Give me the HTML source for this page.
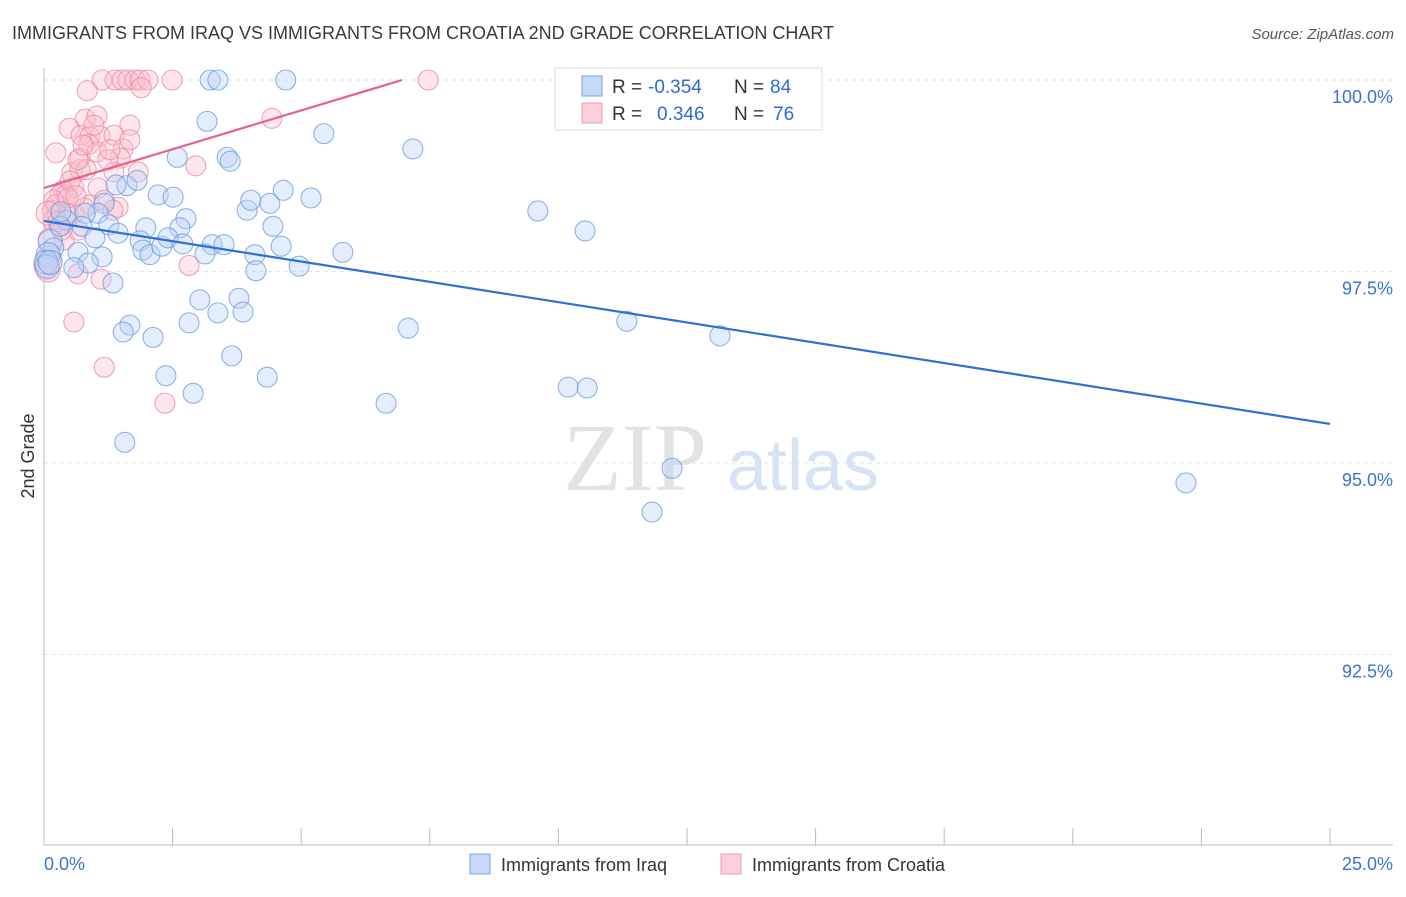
<!DOCTYPE html>
<html><head><meta charset="utf-8"><style>
body{margin:0;background:#fff;font-family:"Liberation Sans",sans-serif}
svg text{font-family:"Liberation Sans",sans-serif}
</style></head><body>
<svg id="chart" width="1406" height="892">
<text x="12" y="39" font-size="18" fill="#3a3a3a">IMMIGRANTS FROM IRAQ VS IMMIGRANTS FROM CROATIA 2ND GRADE CORRELATION CHART</text>
<text x="1394" y="39" font-size="15" fill="#555" text-anchor="end" font-style="italic">Source: ZipAtlas.com</text>
<text x="0" y="0" transform="translate(34,456) rotate(-90)" font-size="18" fill="#333" text-anchor="middle">2nd Grade</text>
<g><text x="635" y="490" font-size="96" fill="#e2e2e2" text-anchor="middle" font-family="Liberation Serif" style="font-family:'Liberation Serif',serif">ZIP</text><text x="803" y="490" font-size="72" fill="#d6e3f5" text-anchor="middle">atlas</text></g>
<g id="grid"></g><g id="axes"></g><g id="pts"></g><g id="lines"></g>
<g>
<rect x="555" y="68" width="267" height="62" fill="#fff" stroke="#ddd"/>
<rect x="582" y="76" width="20" height="20" fill="#c6daf6" stroke="#7ba6e4"/>
<rect x="582" y="103" width="20" height="20" fill="#fbd0dc" stroke="#ef98b2"/>
<text x="612" y="93" font-size="19" fill="#333">R =</text>
<text x="648" y="93" font-size="19" fill="#2d6ccf">-0.354</text>
<text x="734" y="93" font-size="19" fill="#333">N =</text>
<text x="770" y="93" font-size="19" fill="#2d6ccf">84</text>
<text x="612" y="120" font-size="19" fill="#333">R =</text>
<text x="657" y="120" font-size="19" fill="#2d6ccf">0.346</text>
<text x="734" y="120" font-size="19" fill="#333">N =</text>
<text x="773" y="120" font-size="19" fill="#2d6ccf">76</text>
</g>
<g>
<rect x="470" y="854" width="20" height="20" fill="#c6daf6" stroke="#7ba6e4"/>
<text x="501" y="871" font-size="18" fill="#333">Immigrants from Iraq</text>
<rect x="721" y="854" width="20" height="20" fill="#fbd0dc" stroke="#ef98b2"/>
<text x="752" y="871" font-size="18" fill="#333">Immigrants from Croatia</text>
</g>
</svg>
<script>
const yTicks=[100,97.5,95,92.5];
const yTickLabels=["100.0%","97.5%","95.0%","92.5%"];
const xTickLabels=["0.0%","25.0%"];
const iraqX=[3.23,3.38,4.70,14.07,3.17,5.44,7.17,3.56,3.62,2.59,1.61,2.22,2.51,1.81,1.40,1.17,1.05,0.80,0.43,0.74,1.26,1.44,1.98,2.76,2.64,3.95,4.02,4.39,4.65,5.19,4.45,9.60,10.52,0.99,0.12,0.19,0.66,1.13,0.86,0.58,1.87,1.92,2.06,2.29,2.41,2.70,3.27,3.50,3.13,4.10,4.61,4.96,5.81,4.12,1.34,3.03,3.79,3.38,3.87,2.82,1.67,1.54,2.12,7.08,11.33,13.14,3.65,2.37,4.34,2.90,6.65,10.19,10.56,1.57,12.21,11.82,22.20,0.08,0.04,0.06,0.31,0.33,0.12];
const iraqY=[100,100,100,100,99.46,99.30,99.10,98.99,98.94,98.99,98.62,98.50,98.47,98.69,98.63,98.39,98.26,98.26,98.17,98.09,98.11,98.00,98.07,98.19,98.07,98.30,98.43,98.39,98.56,98.46,98.09,98.29,98.03,97.94,97.89,97.81,97.75,97.69,97.61,97.55,97.90,97.78,97.72,97.83,97.94,97.86,97.85,97.85,97.73,97.72,97.83,97.57,97.75,97.51,97.35,97.13,97.15,96.96,96.97,96.83,96.80,96.71,96.64,96.76,96.85,96.66,96.40,96.14,96.12,95.91,95.78,95.99,95.98,95.27,94.93,94.36,94.74,97.72,97.62,97.56,98.09,98.28,97.62];
const croX=[1.13,1.38,1.52,1.63,1.77,1.87,2.02,2.49,7.47,10.32,0.84,1.89,0.80,1.03,1.67,0.49,0.72,0.89,1.09,1.36,0.87,0.70,1.03,1.54,0.23,1.48,2.95,0.54,0.70,0.82,1.36,1.83,4.43,1.05,0.58,0.37,0.31,0.43,0.16,0.25,0.47,0.58,0.89,1.44,1.17,1.34,0.17,0.31,0.12,0.39,0.66,0.04,0.08,0.66,1.11,2.82,0.58,1.17,2.35,0.19,0.23,0.08,0.27,0.35,0.10,0.51,0.66,1.24,0.97,0.76,1.28,1.67,0.47,0.78,0.62];
const croY=[100,100,100,100,100,100,100,100,100,100,99.86,99.90,99.49,99.53,99.41,99.37,99.28,99.26,99.27,99.28,99.16,98.98,99.06,99.10,99.05,98.98,98.88,98.79,98.83,98.83,98.80,98.80,99.50,98.59,98.60,98.56,98.50,98.50,98.30,98.24,98.25,98.26,98.37,98.34,98.43,98.30,98.17,98.09,97.91,97.91,98.04,97.58,97.52,97.47,97.40,97.58,96.84,96.25,95.78,98.43,98.37,98.26,98.15,98.04,97.68,98.68,98.96,98.96,99.41,99.15,99.09,99.22,98.46,98.33,98.49];
const iraqTrendX=[0,25], iraqTrendY=[98.16,95.51];
const croTrendX=[0,6.96], croTrendY=[98.59,100];
const NS='http://www.w3.org/2000/svg';
const xs=v=>44+v*(1286/25);
const ys=v=>80+(100-v)*76.6;
function mk(t,a,p){const e=document.createElementNS(NS,t);for(const k in a)e.setAttribute(k,a[k]);p.appendChild(e);return e;}
const grid=document.getElementById('grid'),axes=document.getElementById('axes'),pts=document.getElementById('pts'),lines=document.getElementById('lines');
yTicks.forEach((t,i)=>{
const g=mk('line',{x1:44,x2:1393,y1:ys(t),y2:ys(t),stroke:'#e2e2e2','stroke-dasharray':'4,4'},grid);


const l=mk('text',{x:1393,y:ys(t)+23,'font-size':18,fill:'#3a73d1','text-anchor':'end'},axes);
l.textContent=yTickLabels[i];


});
const ya=mk('line',{x1:44,x2:44,y1:68,y2:845,stroke:'#bbb'},axes);


const xa=mk('line',{x1:44,x2:1393,y1:845,y2:845,stroke:'#bbb'},axes);


for(let i=0;i<=10;i++){const v=i*2.5;
const tk=mk('line',{x1:xs(v),x2:xs(v),y1:828,y2:845,stroke:'#bbb'},axes);

}
[[0,'start',44],[25,'end',1393]].forEach((d,i)=>{
const l=mk('text',{x:d[2],y:870,'font-size':18,fill:'#3a73d1','text-anchor':d[1]},axes);
l.textContent=xTickLabels[i];

});
function drawPts(X,Y,fill,stroke,name){X.forEach((x,i)=>{
const c=mk('circle',{cx:xs(x),cy:ys(Y[i]),r:x<0.15?12:10,fill:fill,'fill-opacity':0.4,stroke:stroke,'stroke-opacity':0.75,'stroke-width':1.1},pts);

});}
drawPts(croX,croY,'#f9c0d0','#ec86a5','point-croatia');
drawPts(iraqX,iraqY,'#bcd3f4','#6a9be0','point-iraq');
const l1=mk('line',{x1:xs(iraqTrendX[0]),y1:ys(iraqTrendY[0]),x2:xs(iraqTrendX[1]),y2:ys(iraqTrendY[1]),stroke:'#2f6fd6','stroke-width':2.2},lines);


const l2=mk('line',{x1:xs(croTrendX[0]),y1:ys(croTrendY[0]),x2:xs(croTrendX[1]),y2:ys(croTrendY[1]),stroke:'#e8608a','stroke-width':2.2},lines);


</script>
</body></html>
